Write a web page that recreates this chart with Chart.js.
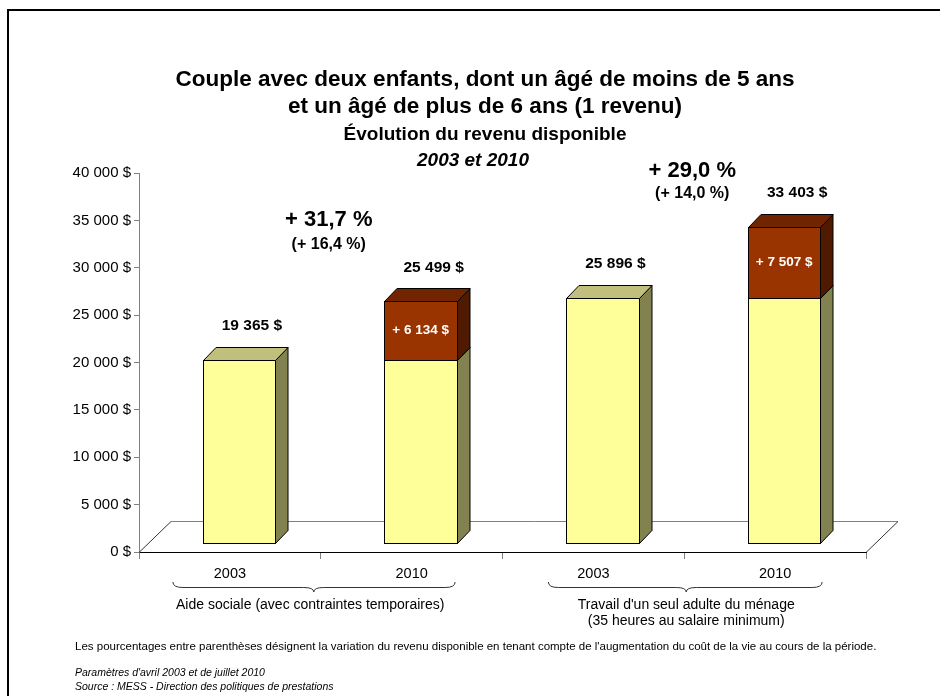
<!DOCTYPE html>
<html lang="fr">
<head>
<meta charset="utf-8">
<title>Évolution du revenu disponible</title>
<script src="https://cdn.jsdelivr.net/npm/chart.js@4.4.1/dist/chart.umd.min.js"></script>
<style>
  body { margin: 0; background: #fff; font-family: "Liberation Sans", Arial, sans-serif; color: #000; }
  #page { position: relative; width: 940px; height: 696px; overflow: hidden; }
  #cadre { position: absolute; left: 7px; top: 9px; width: 1000px; height: 800px; border: 2px solid #000; }
  #graphique { position: absolute; left: 0; top: 0; }
  .titre { position: absolute; left: 0; width: 970px; text-align: center; white-space: nowrap; font-weight: bold; }
  .note { position: absolute; left: 75px; white-space: nowrap; font-size: 11.5px; line-height: 14px; }
  .note.it { font-style: italic; font-size: 10.5px; }
</style>
</head>
<body>
<div id="page">
  <div id="cadre"></div>
  <canvas id="graphique" width="940" height="696"></canvas>
  <div class="titre" style="top:66px;font-size:22.5px;line-height:26px">Couple avec deux enfants, dont un âgé de moins de 5 ans</div>
  <div class="titre" style="top:93px;font-size:22.5px;line-height:26px">et un âgé de plus de 6 ans (1 revenu)</div>
  <div class="titre" style="top:123px;font-size:19px;line-height:22px">Évolution du revenu disponible</div>
  <div class="titre" style="top:149px;font-size:19px;line-height:22px;font-style:italic;left:-12px">2003 et 2010</div>
  <div class="note" style="top:639px">Les pourcentages entre parenthèses désignent la variation du revenu disponible en tenant compte de l'augmentation du coût de la vie au cours de la période.</div>
  <div class="note it" style="top:665px">Paramètres d'avril 2003 et de juillet 2010</div>
  <div class="note it" style="top:679px">Source : MESS - Direction des politiques de prestations</div>
</div>
<script>
// Données du graphique
const categories = ['2003', '2010', '2003', '2010'];
const groupes = [
    ['Aide sociale (avec contraintes temporaires)'],
    ["Travail d'un seul adulte du ménage", '(35 heures au salaire minimum)']
];
const revenuBase = [19365, 19365, 25896, 25896];
const hausse = [0, 6134, 0, 7507];
const totaux = [19365, 25499, 25896, 33403];
const etiquettesHausse = ['', '+ 6 134 $', '', '+ 7 507 $'];
const variationNominale = ['+ 31,7 %', '+ 29,0 %'];
const variationReelle = ['(+ 16,4 %)', '(+ 14,0 %)'];
const yMin = 0;
const yMax = 40000;
const yPas = 5000;

const POLICE = '"Liberation Sans", Arial, sans-serif';

function formatDollars(v) {
    return String(v).replace(/\B(?=(\d{3})+(?!\d))/g, ' ') + ' $';
}

// Effet 3D : décalage de la face avant et profondeur des colonnes
const DECALAGE = 9;
const PROF_X = 12.5;
const PROF_Y = 13;
const SOL_X = 32;
const SOL_Y = 31;
const couleurs3d = [
    { face: '#FFFF99', dessus: '#C0C07C', cote: '#828250' },
    { face: '#993300', dessus: '#702500', cote: '#4F1A00' }
];

const barres3d = {
    id: 'barres3d',
    beforeDatasetsDraw(chart) {
        const ctx = chart.ctx;
        const a = chart.chartArea;
        const avant = a.bottom + 0.5;

        // plancher
        ctx.save();
        ctx.lineWidth = 1;
        ctx.strokeStyle = '#808080';
        ctx.beginPath();
        ctx.moveTo(a.left + SOL_X, avant - SOL_Y);
        ctx.lineTo(a.right + SOL_X, avant - SOL_Y);
        ctx.stroke();
        ctx.strokeStyle = '#333';
        ctx.beginPath();
        ctx.moveTo(a.left, avant);
        ctx.lineTo(a.left + SOL_X, avant - SOL_Y);
        ctx.moveTo(a.right, avant);
        ctx.lineTo(a.right + SOL_X, avant - SOL_Y);
        ctx.stroke();

        // colonnes
        ctx.strokeStyle = '#000';
        categories.forEach((c, i) => {
            chart.data.datasets.forEach((ds, d) => {
                if (!ds.data[i]) return;
                const el = chart.getDatasetMeta(d).data[i];
                const p = el.getProps(['x', 'y', 'base', 'width'], true);
                const g = Math.round(p.x - p.width / 2 + DECALAGE) + 0.5;
                const dr = Math.round(p.x + p.width / 2 + DECALAGE) + 0.5;
                const h = Math.round(p.y - DECALAGE) + 0.5;
                const b = Math.round(p.base - DECALAGE) + 0.5;
                const col = couleurs3d[d];

                ctx.fillStyle = col.face;
                ctx.fillRect(g, h, dr - g, b - h);
                ctx.strokeRect(g, h, dr - g, b - h);

                ctx.fillStyle = col.cote;
                ctx.beginPath();
                ctx.moveTo(dr, h);
                ctx.lineTo(dr + PROF_X, h - PROF_Y);
                ctx.lineTo(dr + PROF_X, b - PROF_Y);
                ctx.lineTo(dr, b);
                ctx.closePath();
                ctx.fill();
                ctx.stroke();

                ctx.fillStyle = col.dessus;
                ctx.beginPath();
                ctx.moveTo(g, h);
                ctx.lineTo(g + PROF_X, h - PROF_Y);
                ctx.lineTo(dr + PROF_X, h - PROF_Y);
                ctx.lineTo(dr, h);
                ctx.closePath();
                ctx.fill();
                ctx.stroke();
            });
        });
        ctx.restore();
        return false;
    }
};

// accolades sous l'axe : décalages par rapport aux centres des catégories
const accolades = [
    { gauche: -57, droite: 43.5, pointe: -7, texte: -10.5 },
    { gauche: -45, droite: 47, pointe: 2, texte: 2 }
];

const etiquettes = {
    id: 'etiquettes',
    afterDraw(chart) {
        const ctx = chart.ctx;
        const y = chart.scales.y;
        const base = chart.getDatasetMeta(0).data;
        const haut = chart.getDatasetMeta(1).data;
        ctx.save();
        ctx.textAlign = 'center';
        ctx.textBaseline = 'middle';
        ctx.fillStyle = '#000';

        // totaux au-dessus des colonnes
        ctx.font = 'bold 15.5px ' + POLICE;
        totaux.forEach((t, i) => {
            ctx.fillText(formatDollars(t), base[i].x + 22, y.getPixelForValue(t) - 43);
        });

        // hausses dans la partie foncée
        ctx.fillStyle = '#fff';
        ctx.font = 'bold 13.5px ' + POLICE;
        etiquettesHausse.forEach((txt, i) => {
            if (!txt) return;
            const p = haut[i];
            ctx.fillText(txt, p.x + DECALAGE, (p.y + p.base) / 2 - DECALAGE);
        });

        // variations en %
        ctx.fillStyle = '#000';
        const ancres = [[35000, 32450], [40250, 37850]];
        variationNominale.forEach((txt, g) => {
            const cx = (base[2 * g].x + base[2 * g + 1].x) / 2 + 8;
            ctx.font = 'bold 22px ' + POLICE;
            ctx.fillText(txt, cx, y.getPixelForValue(ancres[g][0]));
            ctx.font = 'bold 16px ' + POLICE;
            ctx.fillText(variationReelle[g], cx, y.getPixelForValue(ancres[g][1]));
        });

        // accolades et libellés des groupes
        ctx.strokeStyle = '#333';
        ctx.lineWidth = 1;
        ctx.font = '14px ' + POLICE;
        groupes.forEach((lignes, g) => {
            const a = accolades[g];
            const c0 = base[2 * g].x;
            const c1 = base[2 * g + 1].x;
            const mil = (c0 + c1) / 2;
            const x0 = c0 + a.gauche;
            const x1 = c1 + a.droite;
            const xc = mil + a.pointe;
            const yT = 582, yM = 587.5, yB = 592;
            ctx.beginPath();
            ctx.moveTo(x0, yT);
            ctx.quadraticCurveTo(x0, yM, x0 + 10, yM);
            ctx.lineTo(xc - 10, yM);
            ctx.quadraticCurveTo(xc, yM, xc, yB);
            ctx.quadraticCurveTo(xc, yM, xc + 10, yM);
            ctx.lineTo(x1 - 10, yM);
            ctx.quadraticCurveTo(x1, yM, x1, yT);
            ctx.stroke();
            lignes.forEach((l, k) => {
                ctx.fillText(l, mil + a.texte, 605 + k * 16);
            });
        });
        ctx.restore();
    }
};

new Chart(document.getElementById('graphique'), {
    type: 'bar',
    data: {
        labels: categories,
        datasets: [
            { label: 'Revenu disponible', data: revenuBase, backgroundColor: couleurs3d[0].face },
            { label: 'Hausse', data: hausse, backgroundColor: couleurs3d[1].face }
        ]
    },
    options: {
        responsive: false,
        animation: false,
        devicePixelRatio: 1,
        barPercentage: 0.4,
        categoryPercentage: 1,
        layout: { padding: { top: 173, right: 74, bottom: 0, left: 0 } },
        plugins: { legend: { display: false }, tooltip: { enabled: false } },
        scales: {
            x: {
                stacked: true,
                ticks: { color: '#000', font: { size: 14.5, family: POLICE }, padding: 6 },
                grid: { drawOnChartArea: false, offset: true, tickLength: 7, color: '#808080' },
                border: { color: '#000', width: 1 },
                afterFit: s => { s.height = 144; }
            },
            y: {
                stacked: true,
                min: yMin,
                max: yMax,
                ticks: { stepSize: yPas, color: '#000', font: { size: 15, family: POLICE }, padding: 3, callback: v => formatDollars(v) },
                grid: { drawOnChartArea: false, tickLength: 5, color: '#808080' },
                border: { color: '#808080', width: 1 },
                afterFit: s => { s.width = 139; }
            }
        }
    },
    plugins: [barres3d, etiquettes]
});
</script>
</body>
</html>
